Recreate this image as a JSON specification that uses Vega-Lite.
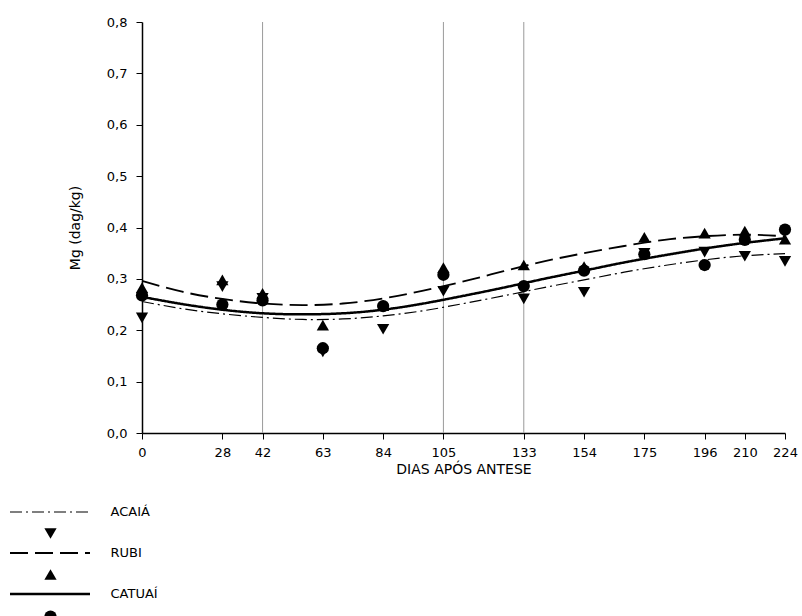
{
  "$schema": "https://vega.github.io/schema/vega-lite/v6.json",
  "width": 643,
  "height": 411,
  "autosize": {"type": "none"},
  "padding": {"left": 142, "top": 22, "right": 17, "bottom": 183},
  "config": {
    "view": {"stroke": null},
    "font": "DejaVu Sans",
    "axis": {
      "grid": false,
      "domainColor": "black",
      "domainWidth": 1.5,
      "tickColor": "black",
      "tickWidth": 1,
      "tickSize": 6,
      "labelFont": "DejaVu Sans",
      "labelFontSize": 13,
      "labelColor": "black",
      "titleFont": "DejaVu Sans",
      "titleFontSize": 14,
      "titleFontWeight": "normal",
      "titleColor": "black"
    }
  },
  "datasets": {
    "grid": [{"dia": 42}, {"dia": 105}, {"dia": 133}],
    "curves": [
      {"cultivar": "ACAIÁ", "dia": 0, "mg": 0.256},
      {"cultivar": "ACAIÁ", "dia": 14, "mg": 0.242},
      {"cultivar": "ACAIÁ", "dia": 28, "mg": 0.232},
      {"cultivar": "ACAIÁ", "dia": 42, "mg": 0.225},
      {"cultivar": "ACAIÁ", "dia": 56, "mg": 0.221},
      {"cultivar": "ACAIÁ", "dia": 70, "mg": 0.222},
      {"cultivar": "ACAIÁ", "dia": 84, "mg": 0.228},
      {"cultivar": "ACAIÁ", "dia": 98, "mg": 0.238},
      {"cultivar": "ACAIÁ", "dia": 112, "mg": 0.252},
      {"cultivar": "ACAIÁ", "dia": 126, "mg": 0.267},
      {"cultivar": "ACAIÁ", "dia": 140, "mg": 0.283},
      {"cultivar": "ACAIÁ", "dia": 154, "mg": 0.298},
      {"cultivar": "ACAIÁ", "dia": 168, "mg": 0.313},
      {"cultivar": "ACAIÁ", "dia": 182, "mg": 0.326},
      {"cultivar": "ACAIÁ", "dia": 196, "mg": 0.337},
      {"cultivar": "ACAIÁ", "dia": 210, "mg": 0.345},
      {"cultivar": "ACAIÁ", "dia": 224, "mg": 0.349},
      {"cultivar": "RUBI", "dia": 0, "mg": 0.296},
      {"cultivar": "RUBI", "dia": 14, "mg": 0.275},
      {"cultivar": "RUBI", "dia": 28, "mg": 0.261},
      {"cultivar": "RUBI", "dia": 42, "mg": 0.252},
      {"cultivar": "RUBI", "dia": 56, "mg": 0.249},
      {"cultivar": "RUBI", "dia": 70, "mg": 0.252},
      {"cultivar": "RUBI", "dia": 84, "mg": 0.262},
      {"cultivar": "RUBI", "dia": 98, "mg": 0.277},
      {"cultivar": "RUBI", "dia": 112, "mg": 0.295},
      {"cultivar": "RUBI", "dia": 126, "mg": 0.315},
      {"cultivar": "RUBI", "dia": 140, "mg": 0.334},
      {"cultivar": "RUBI", "dia": 154, "mg": 0.350},
      {"cultivar": "RUBI", "dia": 168, "mg": 0.364},
      {"cultivar": "RUBI", "dia": 182, "mg": 0.376},
      {"cultivar": "RUBI", "dia": 196, "mg": 0.383},
      {"cultivar": "RUBI", "dia": 210, "mg": 0.386},
      {"cultivar": "RUBI", "dia": 224, "mg": 0.383},
      {"cultivar": "CATUAÍ", "dia": 0, "mg": 0.265},
      {"cultivar": "CATUAÍ", "dia": 14, "mg": 0.251},
      {"cultivar": "CATUAÍ", "dia": 28, "mg": 0.240},
      {"cultivar": "CATUAÍ", "dia": 42, "mg": 0.233},
      {"cultivar": "CATUAÍ", "dia": 56, "mg": 0.231},
      {"cultivar": "CATUAÍ", "dia": 70, "mg": 0.233},
      {"cultivar": "CATUAÍ", "dia": 84, "mg": 0.240},
      {"cultivar": "CATUAÍ", "dia": 98, "mg": 0.252},
      {"cultivar": "CATUAÍ", "dia": 112, "mg": 0.267},
      {"cultivar": "CATUAÍ", "dia": 126, "mg": 0.283},
      {"cultivar": "CATUAÍ", "dia": 140, "mg": 0.300},
      {"cultivar": "CATUAÍ", "dia": 154, "mg": 0.316},
      {"cultivar": "CATUAÍ", "dia": 168, "mg": 0.332},
      {"cultivar": "CATUAÍ", "dia": 182, "mg": 0.346},
      {"cultivar": "CATUAÍ", "dia": 196, "mg": 0.359},
      {"cultivar": "CATUAÍ", "dia": 210, "mg": 0.370},
      {"cultivar": "CATUAÍ", "dia": 224, "mg": 0.379}
    ],
    "points": [
      {"cultivar": "ACAIÁ", "dia": 0, "mg": 0.224},
      {"cultivar": "ACAIÁ", "dia": 28, "mg": 0.285},
      {"cultivar": "ACAIÁ", "dia": 42, "mg": 0.262},
      {"cultivar": "ACAIÁ", "dia": 63, "mg": 0.158},
      {"cultivar": "ACAIÁ", "dia": 84, "mg": 0.202},
      {"cultivar": "ACAIÁ", "dia": 105, "mg": 0.276},
      {"cultivar": "ACAIÁ", "dia": 133, "mg": 0.261},
      {"cultivar": "ACAIÁ", "dia": 154, "mg": 0.274},
      {"cultivar": "ACAIÁ", "dia": 175, "mg": 0.350},
      {"cultivar": "ACAIÁ", "dia": 196, "mg": 0.352},
      {"cultivar": "ACAIÁ", "dia": 210, "mg": 0.344},
      {"cultivar": "ACAIÁ", "dia": 224, "mg": 0.334},
      {"cultivar": "RUBI", "dia": 0, "mg": 0.283},
      {"cultivar": "RUBI", "dia": 28, "mg": 0.298},
      {"cultivar": "RUBI", "dia": 42, "mg": 0.272},
      {"cultivar": "RUBI", "dia": 63, "mg": 0.210},
      {"cultivar": "RUBI", "dia": 84, "mg": 0.248},
      {"cultivar": "RUBI", "dia": 105, "mg": 0.322},
      {"cultivar": "RUBI", "dia": 133, "mg": 0.327},
      {"cultivar": "RUBI", "dia": 154, "mg": 0.324},
      {"cultivar": "RUBI", "dia": 175, "mg": 0.381},
      {"cultivar": "RUBI", "dia": 196, "mg": 0.389},
      {"cultivar": "RUBI", "dia": 210, "mg": 0.393},
      {"cultivar": "RUBI", "dia": 224, "mg": 0.377},
      {"cultivar": "CATUAÍ", "dia": 0, "mg": 0.268},
      {"cultivar": "CATUAÍ", "dia": 28, "mg": 0.250},
      {"cultivar": "CATUAÍ", "dia": 42, "mg": 0.258},
      {"cultivar": "CATUAÍ", "dia": 63, "mg": 0.165},
      {"cultivar": "CATUAÍ", "dia": 84, "mg": 0.247},
      {"cultivar": "CATUAÍ", "dia": 105, "mg": 0.308},
      {"cultivar": "CATUAÍ", "dia": 133, "mg": 0.286},
      {"cultivar": "CATUAÍ", "dia": 154, "mg": 0.316},
      {"cultivar": "CATUAÍ", "dia": 175, "mg": 0.348},
      {"cultivar": "CATUAÍ", "dia": 196, "mg": 0.327},
      {"cultivar": "CATUAÍ", "dia": 210, "mg": 0.376},
      {"cultivar": "CATUAÍ", "dia": 224, "mg": 0.396}
    ]
  },
  "layer": [
    {
      "data": {"name": "grid"},
      "mark": {"type": "rule", "color": "#9a9a9a", "strokeWidth": 1},
      "encoding": {
        "x": {"field": "dia", "type": "quantitative", "scale": {"domain": [0, 224], "nice": false, "zero": false}}
      }
    },
    {
      "data": {"name": "curves"},
      "mark": {"type": "line", "interpolate": "natural", "color": "black"},
      "encoding": {
        "x": {
          "field": "dia", "type": "quantitative",
          "scale": {"domain": [0, 224], "nice": false, "zero": false},
          "axis": {"values": [0, 28, 42, 63, 84, 105, 133, 154, 175, 196, 210, 224], "title": "DIAS APÓS ANTESE", "labelPadding": 7, "titlePadding": 3, "labelFlush": false}
        },
        "y": {
          "field": "mg", "type": "quantitative",
          "scale": {"domain": [0, 0.8], "nice": false},
          "axis": {"values": [0, 0.1, 0.2, 0.3, 0.4, 0.5, 0.6, 0.7, 0.8], "labelExpr": "replace(format(datum.value, '.1f'), '.', ',')", "title": "Mg (dag/kg)", "labelPadding": 9, "titlePadding": 24}
        },
        "strokeDash": {
          "field": "cultivar", "type": "nominal",
          "scale": {"domain": ["ACAIÁ", "RUBI", "CATUAÍ"], "range": [[12, 4, 2, 4], [18, 7], [1, 0]]},
          "legend": {"orient": "none", "legendX": -133.5, "legendY": 483, "title": null, "symbolType": "stroke", "symbolSize": 6400, "clipHeight": 14, "symbolStrokeColor": "black", "labelFont": "DejaVu Sans", "labelFontSize": 13, "labelColor": "black", "labelOffset": 19, "rowPadding": 27, "padding": 0}
        },
        "strokeWidth": {
          "field": "cultivar", "type": "nominal",
          "scale": {"domain": ["ACAIÁ", "RUBI", "CATUAÍ"], "range": [1.2, 2.5, 2]},
          "legend": {"orient": "none", "legendX": -133.5, "legendY": 483, "title": null, "symbolType": "stroke", "symbolSize": 6400, "clipHeight": 14, "symbolStrokeColor": "black", "labelFont": "DejaVu Sans", "labelFontSize": 13, "labelColor": "black", "labelOffset": 19, "rowPadding": 27, "padding": 0}
        }
      }
    },
    {
      "data": {"name": "points"},
      "mark": {"type": "point", "filled": true, "color": "black", "opacity": 1, "size": 150},
      "encoding": {
        "x": {"field": "dia", "type": "quantitative"},
        "y": {"field": "mg", "type": "quantitative"},
        "shape": {
          "field": "cultivar", "type": "nominal", "sort": ["ACAIÁ", "RUBI", "CATUAÍ"],
          "scale": {"range": ["triangle-down", "triangle-up", "circle"]},
          "legend": {"orient": "none", "legendX": -98.5, "legendY": 504.5, "title": null, "symbolSize": 150, "symbolFillColor": "black", "symbolStrokeColor": "black", "symbolOpacity": 1, "labelFont": "DejaVu Sans", "labelFontSize": 13, "labelOpacity": 0, "rowPadding": 23, "padding": 0}
        }
      }
    }
  ]
}
